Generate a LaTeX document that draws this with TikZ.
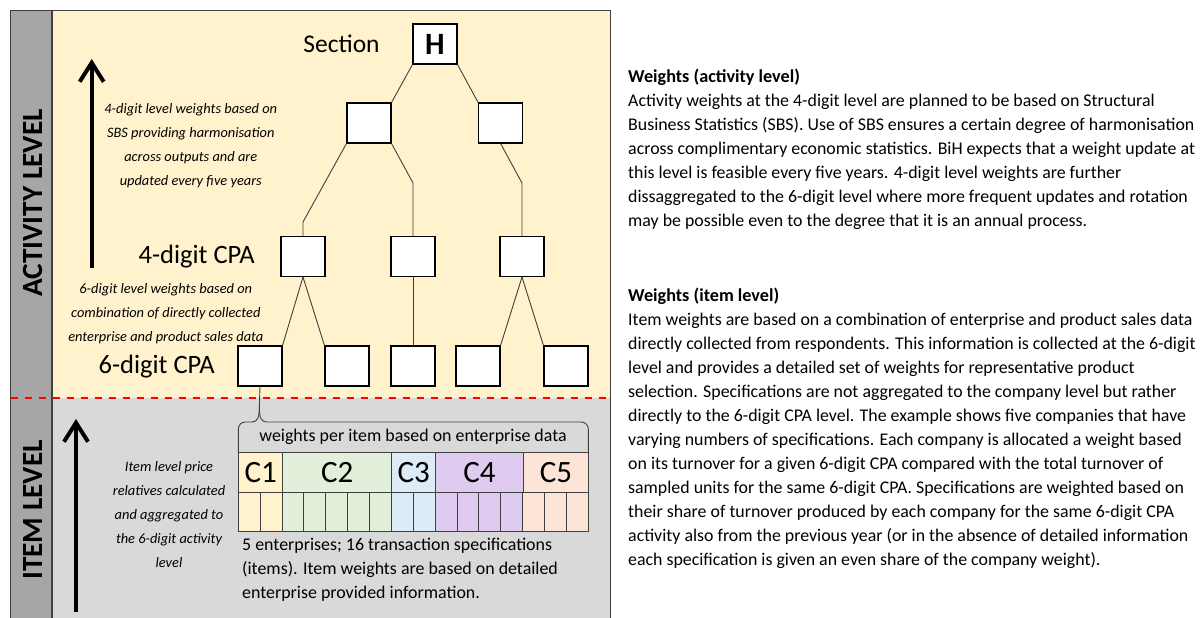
\documentclass[tikz,border=0pt]{standalone}
\usepackage{fontspec}
\setmainfont{Carlito}
\usetikzlibrary{arrows.meta}
\definecolor{yellowbg}{HTML}{FFF2CC}
\definecolor{greybg}{HTML}{D9D9D9}
\definecolor{bargrey}{HTML}{A6A6A6}
\definecolor{framec}{HTML}{404040}
\definecolor{cone}{HTML}{FFF2CC}
\definecolor{ctwo}{HTML}{E2EFDA}
\definecolor{cthree}{HTML}{DDEBF7}
\definecolor{cfour}{HTML}{E0CBF0}
\definecolor{cfive}{HTML}{FCE4D6}
\tikzset{
  cpabox/.style={draw=black, line width=1.1pt, fill=white, minimum width=44pt, minimum height=40pt, inner sep=0pt},
  conn/.style={draw=framec, line width=0.9pt},
  frameline/.style={draw=framec, line width=1.2pt},
  bigarrow/.style={line width=4pt, -{Straight Barb[length=19pt,width=24pt,line width=4pt]}},
  cell/.style={draw=framec, line width=0.9pt, inner sep=0pt, minimum height=40pt, font=\fontsize{31}{31}\selectfont},
  note/.style={align=center, font=\itshape\fontsize{14.4}{24}\selectfont, inner sep=0pt},
  body/.style={anchor=base west, inner sep=0pt, font=\fontsize{17.85}{24}\selectfont},
  head/.style={anchor=base west, inner sep=0pt, font=\bfseries\fontsize{18.2}{24}\selectfont},
  levellbl/.style={font=\bfseries\fontsize{29.3}{29}\selectfont, rotate=90, inner sep=0pt},
  cpalbl/.style={font=\fontsize{26.5}{26}\selectfont, inner sep=0pt},
  enttxt/.style={anchor=base west, inner sep=0pt, font=\fontsize{17.9}{24}\selectfont},
}
\begin{document}
\begin{tikzpicture}[x=1pt,y=-1pt]
\useasboundingbox (0,0) rectangle (1203,618);
\fill[white] (0,0) rectangle (1203,618);
% panels
\fill[yellowbg] (52,10.7) rectangle (610.7,397.7);
\fill[greybg] (52,397.7) rectangle (610.7,618);
\fill[bargrey] (10.5,10.7) rectangle (52,618);
\draw[frameline] (10.5,618) -- (10.5,10.7) -- (610.7,10.7) -- (610.7,618);
\draw[frameline] (52,10.7) -- (52,618);
\draw[red, line width=2pt, dash pattern=on 7pt off 7pt] (10.5,397.7) -- (610.7,397.7);
% level labels
\node[levellbl] (actlbl) at (33,203) {ACTIVITY LEVEL};
\node[levellbl] (itemlbl) at (33,510) {ITEM LEVEL};
% arrows
\coordinate (aa0) at (91.7,268);
\coordinate (aa1) at (91.7,59);
\draw[bigarrow] (aa0) -- (aa1);
\coordinate (ia0) at (76,612);
\coordinate (ia1) at (76,419);
\draw[bigarrow] (ia0) -- (ia1);
% tree
\node[cpabox, font=\bfseries\fontsize{31}{31}\selectfont] (H) at (435,44) {H};
\node[cpalbl, font=\fontsize{25.5}{25.5}\selectfont] (sec) at (341.5,43.3) {Section};
\node[cpabox] (l2a) at (369,123) {};
\node[cpabox] (l2b) at (500.6,123) {};
\node[cpabox] (f1) at (303,256.5) {};
\node[cpabox] (f2) at (413,256.5) {};
\node[cpabox] (f3) at (522,256.5) {};
\node[cpabox] (s1) at (260,366) {};
\node[cpabox] (s2) at (347,366) {};
\node[cpabox] (s3) at (413,366) {};
\node[cpabox] (s4) at (478,366) {};
\node[cpabox] (s5) at (566,366) {};
\node[cpalbl] (four) at (196.7,256.7) {4-digit CPA};
\node[cpalbl] (six) at (156.7,366.7) {6-digit CPA};
\coordinate (k1) at (303,222);
\coordinate (k2) at (413,183);
\coordinate (k3) at (522,183);
\draw[conn] (H.south west) -- (l2a.north east);
\draw[conn] (H.south east) -- (l2b.north west);
\draw[conn] (l2a.south west) -- (k1) -- (f1.north);
\draw[conn] (l2a.south east) -- (k2) -- (f2.north);
\draw[conn] (l2b.south) -- (k3) -- (f3.north);
\draw[conn] (f1.south) -- (s1.north east);
\draw[conn] (f1.south) -- (s2.north west);
\draw[conn] (f2.south) -- (s3.north);
\draw[conn] (f3.south) -- (s4.north east);
\draw[conn] (f3.south) -- (s5.north west);
% notes
\node[note] (n1) at (190.8,146) {4-digit level weights based on\\SBS providing harmonisation\\across outputs and are\\updated every five years};
\node[note] (n2) at (165.8,314) {6-digit level weights based on\\combination of directly collected\\enterprise and product sales data};
\node[note] (n3) at (169,514.5) {Item level price\\relatives calculated\\and aggregated to\\the 6-digit activity\\level};
% brace
\coordinate (tip) at (259.3,408);
\coordinate (bl) at (238.3,452.3);
\coordinate (br) at (588.3,452.3);
\draw[conn] (s1.south) -- (tip);
\draw[conn, rounded corners=7pt] (bl) -- (238.3,422) -- (252,422);
\draw[conn] (252,422) .. controls (257,422) and (259.3,418) .. (tip);
\draw[conn] (tip) .. controls (259.3,418) and (261.6,422) .. (266.6,422);
\draw[conn, rounded corners=7pt] (266.6,422) -- (588.3,422) -- (br);
\node[font=\fontsize{17.9}{18}\selectfont] (wt) at (413,437) {weights per item based on enterprise data};
% table
\def\w{21.875}
\foreach \name/\lbl/\col/\start/\n in {c1/C1/cone/0/2, c2/C2/ctwo/2/5, c3/C3/cthree/7/2, c4/C4/cfour/9/4, c5/C5/cfive/13/3}{
  \pgfmathsetmacro{\xl}{238.3+\start*\w}
  \pgfmathsetmacro{\cw}{\n*\w}
  \node[cell, fill=\col, minimum width=\cw pt, anchor=north west] (\name) at (\xl,452.3) {\lbl};
  \foreach \j in {1,...,\n}{
    \pgfmathsetmacro{\xi}{\xl+(\j-1)*\w}
    \pgfmathsetmacro{\xe}{\xi+\w}
    \filldraw[fill=\col, draw=framec, line width=0.9pt] (\xi,492.3) rectangle (\xe,531.7);
  }
}
\node[enttxt] (ent1) at (242,550) {5 enterprises; 16 transaction specifications};
\node[enttxt] (ent2) at (242,574) {(items). Item weights are based on detailed};
\node[enttxt] (ent3) at (242,598) {enterprise provided information.};
% right text
\node[head] (h1) at (628,82.7) {Weights (activity level)};
\foreach \t [count=\i] in {
 {Activity weights at the 4-digit level are planned to be based on Structural},
 {Business Statistics (SBS). Use of SBS ensures a certain degree of harmonisation},
 {across complimentary economic statistics. BiH expects that a weight update at},
 {this level is feasible every five years. 4-digit level weights are further},
 {dissaggregated to the 6-digit level where more frequent updates and rotation},
 {may be possible even to the degree that it is an annual process.}}{
  \node[body] (ta\i) at (628,82.7+24*\i) {\t};
}
\node[head] (h2) at (628,301.7) {Weights (item level)};
\foreach \t [count=\i] in {
 {Item weights are based on a combination of enterprise and product sales data},
 {directly collected from respondents. This information is collected at the 6-digit},
 {level and provides a detailed set of weights for representative product},
 {selection. Specifications are not aggregated to the company level but rather},
 {directly to the 6-digit CPA level. The example shows five companies that have},
 {varying numbers of specifications. Each company is allocated a weight based},
 {on its turnover for a given 6-digit CPA compared with the total turnover of},
 {sampled units for the same 6-digit CPA. Specifications are weighted based on},
 {their share of turnover produced by each company for the same 6-digit CPA},
 {activity also from the previous year (or in the absence of detailed information},
 {each specification is given an even share of the company weight).}}{
  \node[body] (tb\i) at (628,301.7+24*\i) {\t};
}
\end{tikzpicture}
\end{document}
